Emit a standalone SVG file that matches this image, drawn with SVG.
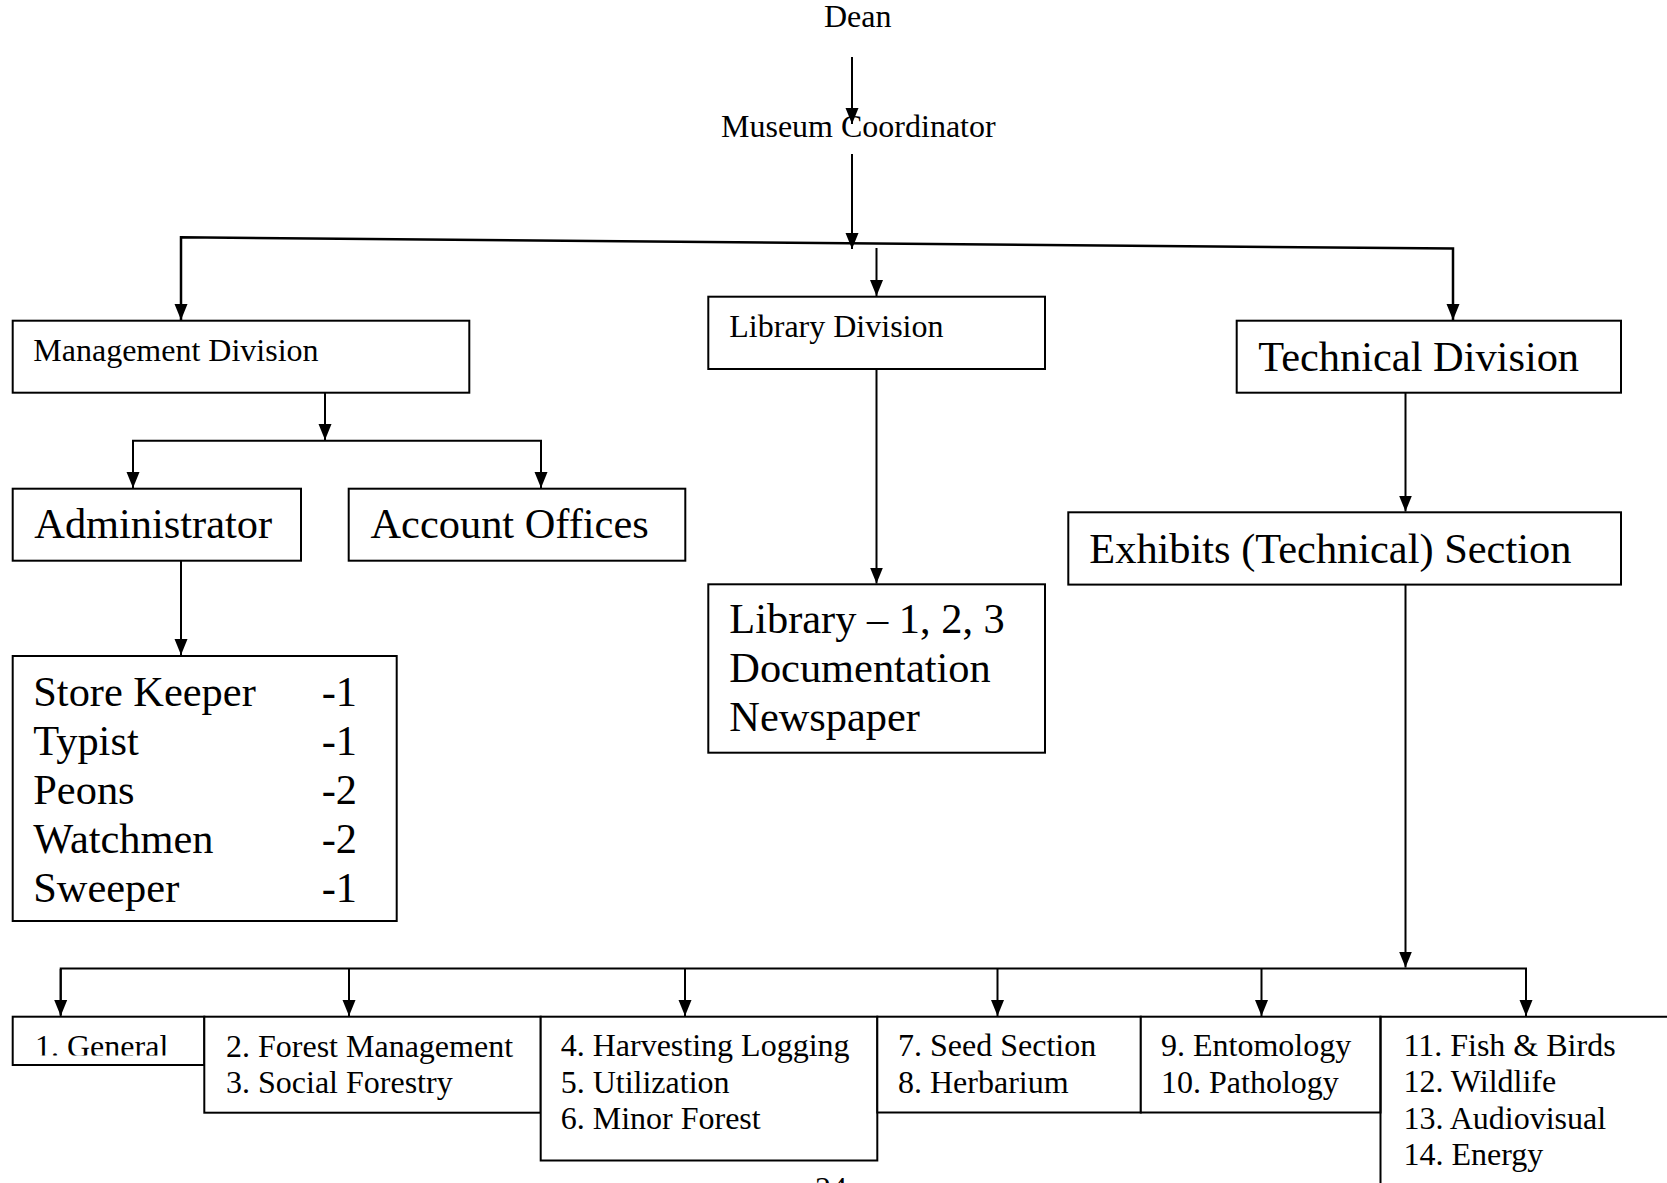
<svg xmlns="http://www.w3.org/2000/svg" width="1667" height="1183" viewBox="0 0 1667 1183">
<style>
  .box { fill: #fff; stroke: #000; stroke-width: 2; }
  .edge { fill: none; stroke: #000; stroke-width: 2; }
  .arr { fill: none; stroke: #000; stroke-width: 2; marker-end: url(#ah); }
  text { font-family: "Liberation Serif", "Times New Roman", serif; fill: #000; }
  .s { font-size: 32px; }
  .l { font-size: 42.4px; }
</style>
<defs>
  <marker id="ah" markerUnits="userSpaceOnUse" markerWidth="16" markerHeight="14" viewBox="0 0 16 14" refX="16" refY="7" orient="auto">
    <path d="M0,0.5 L16,7 L0,13.5 z" fill="#000"/>
  </marker>
  <clipPath id="genclip"><rect x="0" y="1000" width="210" height="55.5"/></clipPath>
</defs>
<rect width="1667" height="1183" fill="#fff"/>

<g id="connectors">
  <line class="arr" x1="852" y1="57" x2="852" y2="124"/>
  <line class="arr" x1="852" y1="154" x2="852" y2="249"/>
  <polyline class="edge" style="stroke-width:2.5" points="181,320 181,237.3 1453,248.5 1453,320"/>
  <line class="arr" x1="181" y1="238" x2="181" y2="320"/>
  <line class="arr" x1="1453" y1="249" x2="1453" y2="320"/>
  <line class="arr" x1="876.5" y1="248" x2="876.5" y2="296"/>
  <line class="arr" x1="325" y1="393" x2="325" y2="440"/>
  <polyline class="edge" points="133,487 133,440.7 541,440.7 541,487"/>
  <line class="arr" x1="133" y1="441" x2="133" y2="488"/>
  <line class="arr" x1="541" y1="441" x2="541" y2="488"/>
  <line class="arr" x1="181" y1="561" x2="181" y2="655"/>
  <line class="arr" x1="876.5" y1="369" x2="876.5" y2="583.5"/>
  <line class="arr" x1="1405.5" y1="393" x2="1405.5" y2="511.5"/>
  <line class="arr" x1="1405.5" y1="585" x2="1405.5" y2="967.5"/>
  <polyline class="edge" points="60.7,1015 60.7,968.5 1526,968.5 1526,1015"/>
  <line class="arr" x1="60.7" y1="969" x2="60.7" y2="1016"/>
  <line class="arr" x1="349" y1="969" x2="349" y2="1016"/>
  <line class="arr" x1="685" y1="969" x2="685" y2="1016"/>
  <line class="arr" x1="997.5" y1="969" x2="997.5" y2="1016"/>
  <line class="arr" x1="1261.5" y1="969" x2="1261.5" y2="1016"/>
  <line class="arr" x1="1526" y1="969" x2="1526" y2="1016"/>
</g>

<g id="dean">
  <text class="s" x="824" y="27">Dean</text>
</g>
<g id="museum-coordinator">
  <text class="s" x="721" y="136.5">Museum Coordinator</text>
</g>

<g id="management-division">
  <rect class="box" x="12.7" y="320.7" width="456.6" height="72"/>
  <text class="s" x="33.3" y="360.8">Management Division</text>
</g>
<g id="library-division">
  <rect class="box" x="708.3" y="296.7" width="336.7" height="72.3"/>
  <text class="s" x="729.3" y="336.7">Library Division</text>
</g>
<g id="technical-division">
  <rect class="box" x="1236.7" y="320.7" width="384.3" height="72"/>
  <text class="l" x="1258.3" y="371">Technical Division</text>
</g>

<g id="administrator">
  <rect class="box" x="12.7" y="488.7" width="288.3" height="72"/>
  <text class="l" x="34.3" y="538.3">Administrator</text>
</g>
<g id="account-offices">
  <rect class="box" x="348.7" y="488.7" width="336.6" height="72"/>
  <text class="l" x="370.5" y="538.3">Account Offices</text>
</g>

<g id="staff">
  <rect class="box" x="12.7" y="656" width="384" height="265"/>
  <text class="l" x="33.3" y="706">Store Keeper</text>
  <text class="l" x="321.7" y="706">-1</text>
  <text class="l" x="33.3" y="755">Typist</text>
  <text class="l" x="321.7" y="755">-1</text>
  <text class="l" x="33.3" y="804">Peons</text>
  <text class="l" x="321.7" y="804">-2</text>
  <text class="l" x="33.3" y="853">Watchmen</text>
  <text class="l" x="321.7" y="853">-2</text>
  <text class="l" x="33.3" y="902">Sweeper</text>
  <text class="l" x="321.7" y="902">-1</text>
</g>

<g id="library-sections">
  <rect class="box" x="708.3" y="584.3" width="336.7" height="168.4"/>
  <text class="l" x="729.3" y="633.3">Library – 1, 2, 3</text>
  <text class="l" x="729.3" y="682.3">Documentation</text>
  <text class="l" x="729.3" y="731.3">Newspaper</text>
</g>

<g id="exhibits-section">
  <rect class="box" x="1068.3" y="512.3" width="552.7" height="72.3"/>
  <text class="l" x="1089.3" y="563.3">Exhibits (Technical) Section</text>
</g>

<g id="sec-general">
  <rect class="box" x="12.7" y="1016.7" width="191.6" height="48.3"/>
  <text class="s" x="35" y="1057" clip-path="url(#genclip)">1. General</text>
</g>
<g id="sec-forest">
  <rect class="box" x="204.3" y="1016.7" width="336.4" height="96"/>
  <text class="s" x="226" y="1056.5">2. Forest Management</text>
  <text class="s" x="226" y="1093">3. Social Forestry</text>
</g>
<g id="sec-harvesting">
  <rect class="box" x="540.7" y="1016.7" width="336.6" height="143.8"/>
  <text class="s" x="560.7" y="1056">4. Harvesting Logging</text>
  <text class="s" x="560.7" y="1092.7">5. Utilization</text>
  <text class="s" x="560.7" y="1129.3">6. Minor Forest</text>
</g>
<g id="sec-seed">
  <rect class="box" x="877.3" y="1016.7" width="263.5" height="95.8"/>
  <text class="s" x="898" y="1056">7. Seed Section</text>
  <text class="s" x="898" y="1092.7">8. Herbarium</text>
</g>
<g id="sec-entomology">
  <rect class="box" x="1140.8" y="1016.7" width="239.7" height="95.8"/>
  <text class="s" x="1161" y="1056">9. Entomology</text>
  <text class="s" x="1161" y="1092.7">10. Pathology</text>
</g>
<g id="sec-fish">
  <path class="edge" d="M1380.5,1190 L1380.5,1016.7 L1670,1016.7"/>
  <text class="s" x="1403.4" y="1055.5">11. Fish &amp; Birds</text>
  <text class="s" x="1403.4" y="1092">12. Wildlife</text>
  <text class="s" x="1403.4" y="1128.7">13. Audiovisual</text>
  <text class="s" x="1403.4" y="1165.3">14. Energy</text>
</g>

<g id="page-number">
  <text class="s" x="815" y="1199">24</text>
</g>
</svg>
